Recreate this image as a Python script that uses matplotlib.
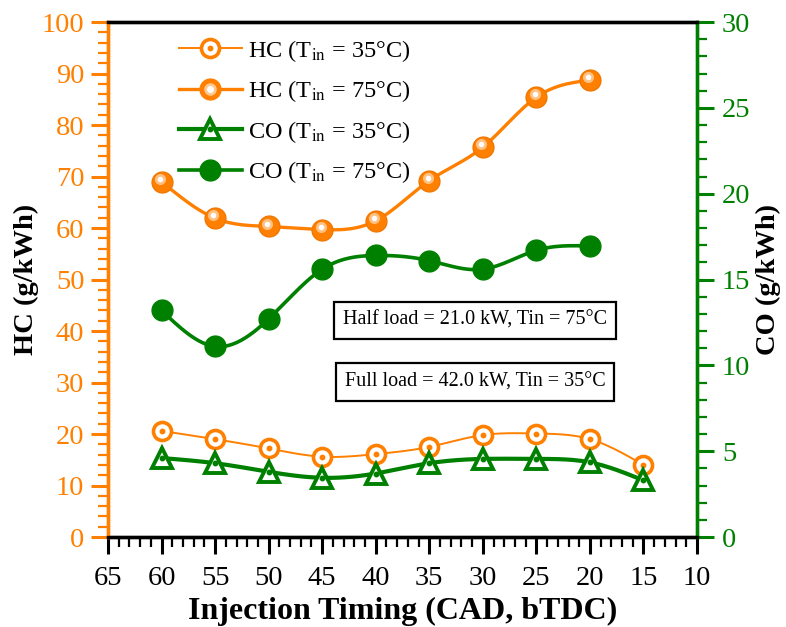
import numpy as np
import matplotlib
matplotlib.use("Agg")
import matplotlib.pyplot as plt
from matplotlib.ticker import MultipleLocator, AutoMinorLocator
from matplotlib.lines import Line2D
from matplotlib.legend_handler import HandlerTuple
import matplotlib.transforms as mtransforms

plt.rcParams['font.family'] = ['Liberation Serif', 'DejaVu Serif']
plt.rcParams['mathtext.fontset'] = 'stix'

# injection timing (CAD bTDC)
timing_35 = [60, 55, 50, 45, 40, 35, 30, 25, 20, 15]
timing_75 = [60, 55, 50, 45, 40, 35, 30, 25, 20]

# HC emissions, g/kWh (left axis)
hc_35 = [20.6, 19.0, 17.2, 15.6, 16.1, 17.5, 19.8, 20.1, 19.0, 14.0]
hc_75 = [69.0, 61.9, 60.3, 59.7, 61.4, 69.2, 75.7, 85.4, 88.7]

# CO emissions, g/kWh (right axis)
co_35 = [4.6, 4.3, 3.8, 3.45, 3.7, 4.3, 4.55, 4.55, 4.35, 3.3]
co_75 = [13.2, 11.1, 12.7, 15.6, 16.4, 16.1, 15.6, 16.7, 16.95]

labels = [r'HC (T$_{\rm in}$ = 35°C)', r'HC (T$_{\rm in}$ = 75°C)',
          r'CO (T$_{\rm in}$ = 35°C)', r'CO (T$_{\rm in}$ = 75°C)']
notes = ['Half load = 21.0 kW, Tin = 75°C', 'Full load = 42.0 kW, Tin = 35°C']

ORANGE = '#ff8000'
GREEN = '#008000'


def smooth(x, y, n=200):
    # natural cubic spline through the points, only used for the line path
    x = np.asarray(x, float)[::-1]
    y = np.asarray(y, float)[::-1]
    h = np.diff(x)
    m = len(x)
    A = np.zeros((m, m))
    b = np.zeros(m)
    A[0, 0] = A[-1, -1] = 1
    for i in range(1, m - 1):
        A[i, i - 1] = h[i - 1]
        A[i, i] = 2 * (h[i - 1] + h[i])
        A[i, i + 1] = h[i]
        b[i] = 6 * ((y[i + 1] - y[i]) / h[i] - (y[i] - y[i - 1]) / h[i - 1])
    M = np.linalg.solve(A, b)
    xs = np.linspace(x[0], x[-1], n)
    idx = np.clip(np.searchsorted(x, xs) - 1, 0, m - 2)
    x0, x1 = x[idx], x[idx + 1]
    hh = x1 - x0
    t0 = x1 - xs
    t1 = xs - x0
    ys = (M[idx] * t0**3 + M[idx + 1] * t1**3) / (6 * hh) \
        + (y[idx] / hh - M[idx] * hh / 6) * t0 \
        + (y[idx + 1] / hh - M[idx + 1] * hh / 6) * t1
    return xs, ys


fig = plt.figure(figsize=(7.86, 6.27), dpi=100)
ax = fig.add_axes([0.1374, 0.1435, 0.7494, 0.8214])
ax2 = ax.twinx()

# HC curves
xs, ys = smooth(timing_35, hc_35)
ax.plot(xs, ys, color=ORANGE, lw=1.4, zorder=3)
ax.plot(timing_35, hc_35, ls='none', marker='o', ms=13, mfc='white',
        mec=ORANGE, mew=2.6, zorder=4)
ax.plot(timing_35, hc_35, ls='none', marker='o', ms=3.2, color=ORANGE, zorder=5)

xs, ys = smooth(timing_75, hc_75)
ax.plot(xs, ys, color=ORANGE, lw=2.4, zorder=3)
ax.plot(timing_75, hc_75, ls='none', marker='o', ms=15, color=ORANGE,
        mec='#f07800', zorder=4)
shift = mtransforms.offset_copy(ax.transData, fig=fig, x=-1.2, y=2.0, units='points')
ax.plot(timing_75, hc_75, ls='none', marker='o', ms=8, color='#ffc890',
        mec='none', alpha=0.9, transform=shift, zorder=5)
ax.plot(timing_75, hc_75, ls='none', marker='o', ms=4, color='white',
        mec='none', transform=shift, zorder=6)

# CO curves
xs, ys = smooth(timing_35, co_35)
ax2.plot(xs, ys, color=GREEN, lw=3.0, zorder=3)
ax2.plot(timing_35, co_35, ls='none', marker='^', ms=15, mfc='white',
         mec=GREEN, mew=2.8, zorder=4)
ax2.plot(timing_35, co_35, ls='none', marker='o', ms=3.2, color=GREEN, zorder=5)

xs, ys = smooth(timing_75, co_75)
ax2.plot(xs, ys, color=GREEN, lw=2.6, zorder=3)
ax2.plot(timing_75, co_75, ls='none', marker='o', ms=15, color=GREEN, zorder=4)

# axes ranges and ticks
ax.set_xlim(65, 10)
ax.set_ylim(0, 100)
ax2.set_ylim(0, 30)
ax.xaxis.set_major_locator(MultipleLocator(5))
ax.xaxis.set_minor_locator(AutoMinorLocator(5))
ax.yaxis.set_major_locator(MultipleLocator(10))
ax.yaxis.set_minor_locator(AutoMinorLocator(5))
ax2.yaxis.set_major_locator(MultipleLocator(5))
ax2.yaxis.set_minor_locator(AutoMinorLocator(5))

for a in (ax, ax2):
    for s in a.spines.values():
        s.set_linewidth(2.4)
    a.spines['left'].set_color(ORANGE)
    a.spines['right'].set_color(GREEN)

ax.tick_params(axis='x', which='major', length=12, width=2.2, labelsize=20.5, pad=9)
ax.tick_params(axis='x', which='minor', length=7, width=1.6)
ax.tick_params(axis='y', which='major', length=12, width=2.2, colors=ORANGE,
               labelsize=20.5, pad=5)
ax.tick_params(axis='y', which='minor', length=7, width=1.6, colors=ORANGE)
ax2.tick_params(axis='y', which='major', length=12, width=2.2, colors=GREEN,
                labelsize=20.5, pad=6)
ax2.tick_params(axis='y', which='minor', length=7, width=1.6, colors=GREEN)

ax.set_xlabel('Injection Timing (CAD, bTDC)', fontsize=23, fontweight='bold', labelpad=4)
ax.set_ylabel('HC (g/kWh)', fontsize=20.5, fontweight='bold', labelpad=2)
ax2.set_ylabel('CO (g/kWh)', fontsize=20.5, fontweight='bold', labelpad=4)

# legend with composite marker handles
h1 = (Line2D([], [], color=ORANGE, lw=1.4, marker='o', ms=13, mfc='white', mec=ORANGE, mew=2.6),
      Line2D([], [], ls='none', marker='o', ms=3.2, color=ORANGE))
h2 = (Line2D([], [], color=ORANGE, lw=2.4, marker='o', ms=15),
      Line2D([], [], ls='none', marker='o', ms=8, color='#ffc890'),
      Line2D([], [], ls='none', marker='o', ms=4, color='white'))
h3 = (Line2D([], [], color=GREEN, lw=3.0, marker='^', ms=15, mfc='white', mec=GREEN, mew=2.8),
      Line2D([], [], ls='none', marker='o', ms=3.2, color=GREEN))
h4 = Line2D([], [], color=GREEN, lw=2.6, marker='o', ms=15)
ax2.legend([h1, h2, h3, h4], labels, loc='upper left', bbox_to_anchor=(0.083, 1.012),
           frameon=False, fontsize=17.5, handlelength=2.6, handletextpad=0.25,
           labelspacing=0.6, handler_map={tuple: HandlerTuple(ndivide=1, pad=0)})

for note, ypos in zip(notes, [0.421, 0.301]):
    ax.text(0.623, ypos, note, transform=ax.transAxes, ha='center', va='center',
            fontsize=14.5, zorder=6,
            bbox=dict(boxstyle='square,pad=0.45', fc='white', ec='black', lw=1.6))

fig.savefig('out.png', dpi=100)
